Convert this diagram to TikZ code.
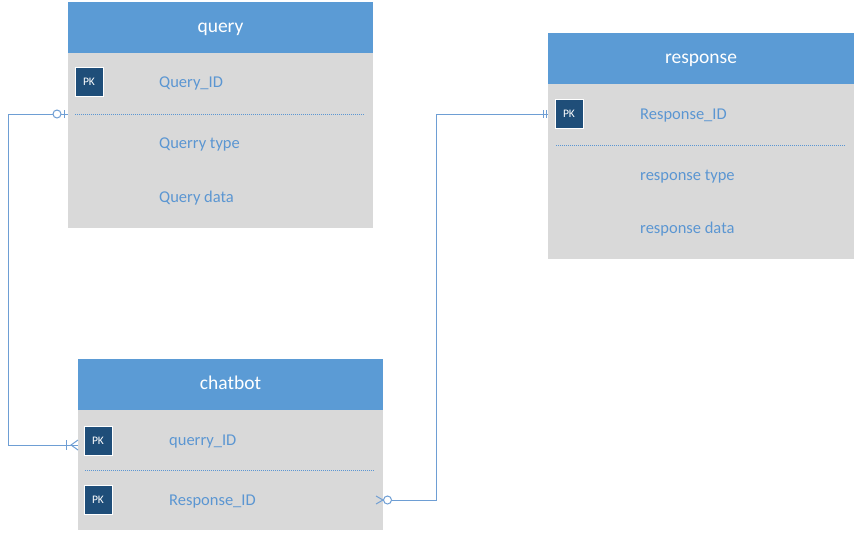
\documentclass[tikz,border=0pt]{standalone}
\usepackage{fontspec}
\setmainfont{Carlito}
\definecolor{hdrblue}{RGB}{91,155,213}
\definecolor{bodygray}{RGB}{217,217,217}
\definecolor{pkblue}{RGB}{31,78,121}
\definecolor{fieldblue}{RGB}{91,150,210}
\definecolor{connblue}{RGB}{110,158,212}
\begin{document}
\begin{tikzpicture}[x=1pt,y=-1pt,
  hdr/.style={fill=hdrblue,draw=none,text=white,font=\fontsize{19.5}{22}\selectfont,text height=13pt,text depth=3pt,minimum width=305pt,minimum height=51pt,anchor=north west,inner sep=0pt,outer sep=0pt},
  tbody/.style={fill=bodygray,draw=none,minimum width=305pt,anchor=north west,inner sep=0pt,outer sep=0pt},
  pk/.style={fill=pkblue,draw=white,line width=1pt,text=white,font=\fontsize{11.5}{13}\selectfont,minimum width=28pt,minimum height=29pt,inner sep=0pt},
  field/.style={anchor=west,text=fieldblue,font=\fontsize{16.5}{19}\selectfont,inner sep=0pt},
  sepline/.style={draw=fieldblue,dash pattern=on 1pt off 1pt,line width=1pt},
  conn/.style={draw=connblue,line width=1pt},
  endmark/.style={draw=connblue,line width=1pt}
]
\useasboundingbox (0,0) rectangle (856,533);
\fill[white] (0,0) rectangle (856,533);

% query table
\node[tbody,minimum height=175pt] (qb) at (68,53) {};
\node[hdr] (qh) at (68,2) {query};
\node[pk] (qpk) at (89,82) {PK};
\node[field] (qf1) at (159,83.5) {Query\_ID};
\node[field] (qf2) at (159,144.5) {Querry type};
\node[field] (qf3) at (159,198.5) {Query data};
\draw[sepline] (75,114) -- (365,114);

% response table
\node[tbody,minimum height=175pt,minimum width=306pt] (rb) at (548,84) {};
\node[hdr,minimum width=306pt] (rh) at (548,33) {response};
\node[pk] (rpk) at (569,114) {PK};
\node[field] (rf1) at (640,115.5) {Response\_ID};
\node[field] (rf2) at (640,176.5) {response type};
\node[field] (rf3) at (640,229.5) {response data};
\draw[sepline] (556,145) -- (846,145);

% chatbot table
\node[tbody,minimum height=120pt] (cb) at (78,410) {};
\node[hdr] (ch) at (78,359) {chatbot};
\node[pk] (cpk1) at (98,441) {PK};
\node[field] (cf1) at (169,441.5) {querry\_ID};
\node[pk] (cpk2) at (98,500) {PK};
\node[field] (cf2) at (169,501.5) {Response\_ID};
\draw[sepline] (85,470) -- (375,470);

% connector endpoints
\coordinate (q1) at (qb.west |- 0,114);
\coordinate (c1) at (cb.west |- 0,445);
\coordinate (c2) at (cb.east |- 0,500);
\coordinate (r1) at (rb.west |- 0,114);

% connector query -- chatbot
\draw[conn] (q1) -- (8,114) |- (c1);
\draw[endmark] (64,110) -- (64,118);
\draw[endmark,fill=white] (57,114) circle (4pt);
\draw[endmark] (66,440) -- (66,450);
\draw[endmark] (78,440) -- (71,445) -- (78,450);

% connector chatbot -- response
\draw[conn] (c2) -- (436,500) |- (r1);
\draw[endmark] (376,496) -- (383,500) -- (376,504);
\draw[endmark,fill=white] (387.5,500) circle (4pt);
\draw[endmark] (543,110) -- (543,118);
\draw[endmark] (546.5,110) -- (546.5,118);
\end{tikzpicture}
\end{document}
